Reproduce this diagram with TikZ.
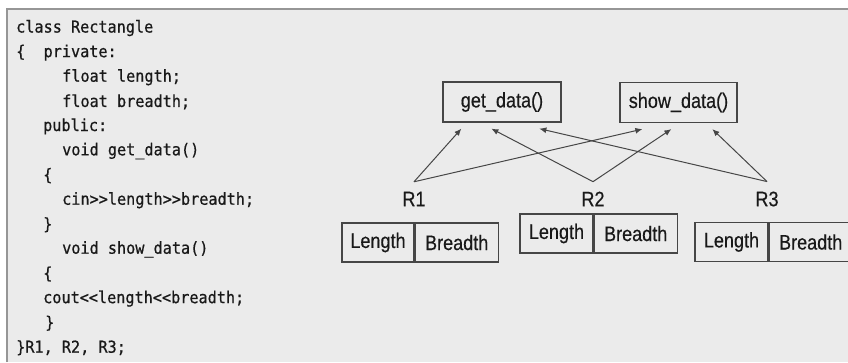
\documentclass[tikz,border=0pt]{standalone}
\usepackage{fontspec}
\setmainfont{Liberation Sans}
\setmonofont[FakeStretch=0.92,FakeBold=0.6]{DejaVu Sans Mono}
\newfontfamily\diagfont[FakeStretch=0.86,FakeBold=0.4]{Liberation Sans}
\usetikzlibrary{arrows.meta,positioning}
\definecolor{panelgrey}{RGB}{235,235,235}
\definecolor{framegrey}{RGB}{150,150,150}
\definecolor{inkgrey}{RGB}{70,70,70}

\begin{document}
\begin{tikzpicture}[x=1pt, y=-1pt,
    code/.style={anchor=west, inner sep=0pt, font=\ttfamily\fontsize{16.5}{20}\selectfont, text=black!90},
    fn/.style={rectangle, draw=inkgrey, line width=1.3pt, minimum width=118pt, minimum height=40pt,
               inner sep=0pt, font=\diagfont\fontsize{21}{24}\selectfont, text=black!90},
    cell/.style={rectangle, draw=inkgrey, line width=1.2pt, minimum height=39pt, inner sep=0pt,
                 font=\diagfont\fontsize{21}{24}\selectfont, text=black!90},
    obj/.style={inner sep=1pt, outer ysep=9pt, font=\diagfont\fontsize{21}{24}\selectfont, text=black!90},
    link/.style={-{Latex[length=7pt,width=6pt]}, inkgrey, line width=1pt}]
% panel
\useasboundingbox (0,0) rectangle (848,362);
\fill[white] (0,0) rectangle (848,362);
\fill[panelgrey] (7,9) rectangle (848,362);
\draw[framegrey, line width=1.5pt] (7,362) -- (7,9) -- (848,9);

% class listing
\node[code] (c0)  at (16,28)    {class Rectangle};
\node[code] (c1)  at (16,52.6)  {\{\ \ private:};
\node[code] (c2)  at (62,77.2)  {float length;};
\node[code] (c3)  at (62,101.8) {float breadth;};
\node[code] (c4)  at (43,126.4) {public:};
\node[code] (c5)  at (62,151)   {void get\_data()};
\node[code] (c6)  at (43,175.6) {\{};
\node[code] (c7)  at (62,200.2) {cin>>length>>breadth;};
\node[code] (c8)  at (43,224.8) {\}};
\node[code] (c9)  at (62,249.4) {void show\_data()};
\node[code] (c10) at (43,274)   {\{};
\node[code] (c11) at (43,298.6) {cout<<length<<breadth;};
\node[code] (c12) at (45,323.2) {\}};
\node[code] (c13) at (16,347.8) {\}R1, R2, R3;};

% member functions
\node[fn] (get) at (502,102) {get\_data()};
\node[fn, minimum width=117pt] (show) at (678.5,102.5) {show\_data()};

% objects
\node[obj] (r1) at (414,199) {R1};
\node[obj] (r2) at (593,199) {R2};
\node[obj] (r3) at (767,199) {R3};

% data members of each object
\node[cell, minimum width=72pt] (len1) at (378,242.5) {Length};
\node[cell, minimum width=83pt, right=0pt of len1] (br1) {Breadth};
\node[cell, minimum width=73pt] (len2) at (556.5,233.5) {Length};
\node[cell, minimum width=83pt, right=0pt of len2] (br2) {Breadth};
\node[cell, minimum width=73pt] (len3) at (731.5,242) {Length};
\node[cell, minimum width=83pt, right=0pt of len3] (br3) {Breadth};

% calls
\draw[link] (r1.north) -- ([shift={(19,6)}]get.south west);
\draw[link] (r1.north) -- ([shift={(23,6)}]show.south west);
\draw[link] (r2.north) -- ([shift={(49,6)}]get.south west);
\draw[link] (r2.north) -- ([shift={(52,6)}]show.south west);
\draw[link] (r3.north) -- ([shift={(97,6)}]get.south west);
\draw[link] (r3.north) -- ([shift={(93,6)}]show.south west);
\end{tikzpicture}
\end{document}
